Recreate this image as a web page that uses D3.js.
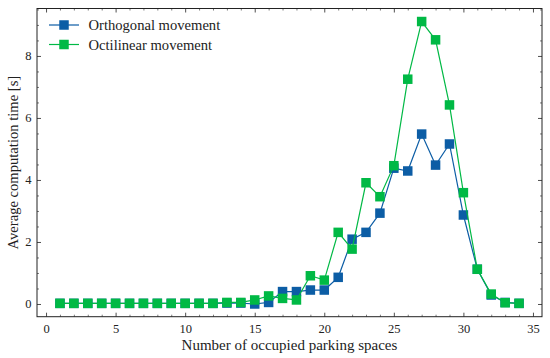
<!DOCTYPE html>
<html>
<head>
<meta charset="utf-8">
<script src="https://cdn.jsdelivr.net/npm/d3@7"></script>
<style>
  html, body { margin: 0; padding: 0; background: #fff; }
  svg { display: block; }
  svg text { font-family: "Liberation Serif", "Times New Roman", serif; fill: #222; }
</style>
</head>
<body>
<svg id="chart" width="550" height="358"></svg>
<script>
const occupied = d3.range(1, 35);
const orthogonal = [0.02,0.02,0.02,0.02,0.02,0.02,0.02,0.02,0.02,0.02,0.02,0.02,0.03,0.03,0.0,0.05,0.40,0.40,0.45,0.45,0.86,2.09,2.31,2.93,4.38,4.29,5.48,4.48,5.16,2.87,1.12,0.29,0.05,0.02];
const octilinear = [0.02,0.02,0.02,0.02,0.02,0.02,0.02,0.02,0.02,0.02,0.02,0.02,0.05,0.05,0.13,0.26,0.18,0.13,0.91,0.77,2.31,1.77,3.91,3.46,4.46,7.25,9.11,8.52,6.42,3.59,1.12,0.32,0.04,0.02];
const seriesNames = ["Orthogonal movement", "Octilinear movement"];
const seriesColors = ["#0C5DA5", "#00B945"];
const xTicks = [0, 5, 10, 15, 20, 25, 30, 35];
const yTicks = [0, 2, 4, 6, 8];
const xLabel = "Number of occupied parking spaces";
const yLabel = "Average computation time [s]";

const svg = d3.select("#chart");
const m = {left: 37, right: 542, top: 8.5, bottom: 316.7};
const x = d3.scaleLinear().domain([-0.65, 35.65]).range([m.left, m.right]);
const y = d3.scaleLinear().domain([-0.41, 9.53]).range([m.bottom, m.top]);

const g = svg.append("g");

g.append("rect").attr("x", m.left).attr("y", m.top)
  .attr("width", m.right - m.left).attr("height", m.bottom - m.top)
  .attr("fill", "none").attr("stroke", "#222").attr("stroke-width", 1);

const xMinor = d3.range(0, 36, 1).filter(v => v % 5 !== 0);
const yMinor = d3.range(0, 9.6, 0.5).filter(v => Math.abs(v % 2) > 0.01);

function axisTicks(axisGen, transform, major, minor, majLen, minLen, pad, showLabels) {
  const a = g.append("g").attr("transform", transform)
    .call(axisGen.tickValues(major).tickSizeInner(-majLen).tickSizeOuter(0).tickPadding(pad)
      .tickFormat(showLabels ? d3.format("d") : () => ""));
  a.attr("font-family", null).attr("font-size", null);
  a.select(".domain").remove();
  a.selectAll("line").attr("stroke", "#222").attr("stroke-width", 0.8);
  a.selectAll("text").attr("font-size", 12.5).attr("fill", "#222");
  const b = g.append("g").attr("transform", transform)
    .call(axisGen.tickValues(minor).tickSizeInner(-minLen).tickSizeOuter(0).tickFormat(() => ""));
  b.select(".domain").remove();
  b.selectAll("line").attr("stroke", "#222").attr("stroke-width", 0.6);
}

axisTicks(d3.axisBottom(x), `translate(0,${m.bottom})`, xTicks, xMinor, 4, 2, 7.5, true);
axisTicks(d3.axisTop(x), `translate(0,${m.top})`, xTicks, xMinor, 4, 2, 0, false);
axisTicks(d3.axisLeft(y), `translate(${m.left},0)`, yTicks, yMinor, 4, 2, 5.5, true);
axisTicks(d3.axisRight(y), `translate(${m.right},0)`, yTicks, yMinor, 4, 2, 0, false);

svg.append("text").attr("x", (m.left + m.right) / 2).attr("y", 349.5)
  .attr("text-anchor", "middle").attr("font-size", 15).text(xLabel);
svg.append("text").attr("transform", `translate(17.5,${(m.top + m.bottom) / 2}) rotate(-90)`)
  .attr("text-anchor", "middle").attr("font-size", 14.6).text(yLabel);

const data = [orthogonal, octilinear];
const ms = 9.5;
data.forEach((vals, i) => {
  const pts = occupied.map((o, k) => [o, vals[k]]);
  const line = d3.line().x(d => x(d[0])).y(d => y(d[1]));
  g.append("path").datum(pts).attr("d", line).attr("fill", "none")
    .attr("stroke", seriesColors[i]).attr("stroke-width", 1.2);
  g.selectAll(null).data(pts).enter().append("rect")
    .attr("x", d => x(d[0]) - ms / 2).attr("y", d => y(d[1]) - ms / 2)
    .attr("width", ms).attr("height", ms).attr("fill", seriesColors[i]);
});

const leg = svg.append("g");
seriesNames.forEach((name, i) => {
  const cy = 25 + i * 19.5;
  leg.append("line").attr("x1", 49).attr("x2", 79).attr("y1", cy).attr("y2", cy)
    .attr("stroke", seriesColors[i]).attr("stroke-width", 1.2);
  leg.append("rect").attr("x", 64 - ms / 2).attr("y", cy - ms / 2).attr("width", ms).attr("height", ms)
    .attr("fill", seriesColors[i]);
  leg.append("text").attr("x", 88.5).attr("y", cy + 5).attr("font-size", 14.6).text(name);
});
</script>
</body>
</html>
